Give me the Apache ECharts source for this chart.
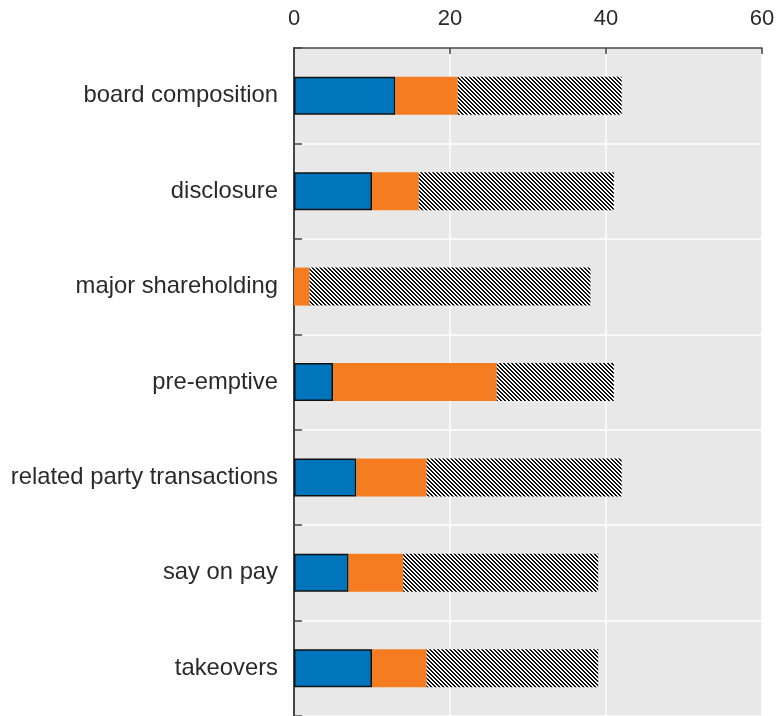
<!DOCTYPE html>
<html>
<head>
<meta charset="utf-8">
<script src="https://cdn.jsdelivr.net/npm/echarts@6/dist/echarts.min.js"></script>
<style>
html,body{margin:0;padding:0;background:#fff;}
#chart{width:782px;height:716px;}
</style>
</head>
<body>
<div id="chart"></div>
<script>
const categories = ['board composition','disclosure','major shareholding','pre-emptive','related party transactions','say on pay','takeovers'];
const blueValues = [13, 10, 0, 5, 8, 7, 10];
const orangeValues = [8, 6, 2, 21, 9, 7, 7];
const hatchValues = [21, 25, 36, 15, 25, 25, 22];
const xTicks = [0, 20, 40, 60];

function makeHatch() {
  const n = 4;
  const c = document.createElement('canvas');
  c.width = n; c.height = n;
  const ctx = c.getContext('2d');
  ctx.fillStyle = '#ffffff';
  ctx.fillRect(0, 0, n, n);
  ctx.fillStyle = '#111111';
  for (let y = 0; y < n; y++) {
    for (let x = 0; x < n; x++) {
      const m = ((x - y) % n + n) % n;
      if (m === 0 || m === 1) ctx.fillRect(x, y, 1, 1);
    }
  }
  return c;
}

const chart = echarts.init(document.getElementById('chart'), null, {renderer: 'canvas'});
const font = '"Liberation Sans", Arial, sans-serif';
chart.setOption({
  animation: false,
  backgroundColor: '#ffffff',
  grid: {left: 294, top: 48, width: 468, height: 670, show: true, backgroundColor: '#e8e8e8', borderWidth: 0},
  xAxis: {
    type: 'value', position: 'top', min: xTicks[0], max: xTicks[xTicks.length - 1], interval: 20,
    axisLine: {show: true, lineStyle: {color: '#444', width: 1.5}},
    axisTick: {show: true, inside: true, length: 6, lineStyle: {color: '#444', width: 1.5}},
    axisLabel: {fontSize: 22, color: '#2a2a2a', fontFamily: font, margin: 18},
    splitLine: {show: true, lineStyle: {color: '#ffffff', width: 1.5}}
  },
  yAxis: {
    type: 'category', data: categories, inverse: true,
    axisLine: {show: true, lineStyle: {color: '#444', width: 2}},
    axisTick: {show: true, inside: true, length: 8, lineStyle: {color: '#444', width: 1.5}},
    axisLabel: {fontSize: 23.8, color: '#2a2a2a', fontFamily: font, margin: 16},
    splitLine: {show: true, lineStyle: {color: '#ffffff', width: 1.5}}
  },
  series: [
    {type: 'bar', stack: 'total', barWidth: 38,
     data: blueValues.map(v => v === 0 ? {value: v, itemStyle: {borderWidth: 0}} : v),
     itemStyle: {color: '#0175bb', borderColor: '#111', borderWidth: 1.5}},
    {type: 'bar', stack: 'total', barWidth: 38, data: orangeValues,
     itemStyle: {color: '#f57c21'}},
    {type: 'bar', stack: 'total', barWidth: 38, data: hatchValues,
     itemStyle: {color: {image: makeHatch(), repeat: 'repeat'}}}
  ]
});
</script>
</body>
</html>
